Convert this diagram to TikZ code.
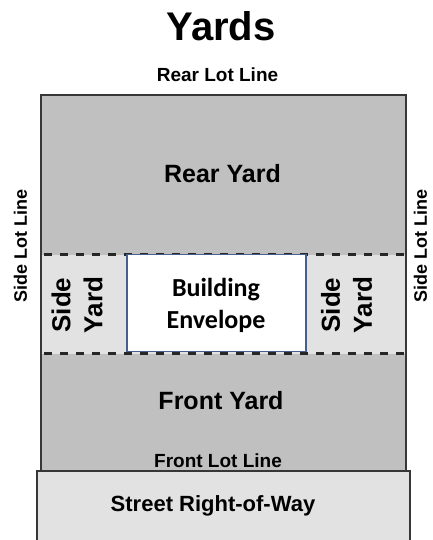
\documentclass[tikz,border=0pt]{standalone}
\usepackage{fontspec}
\setmainfont{Liberation Sans}
\newfontfamily\calibfont{Carlito}
\definecolor{lotgray}{RGB}{192,192,192}
\definecolor{bandgray}{RGB}{226,226,226}
\definecolor{streetgray}{RGB}{226,226,226}
\definecolor{edgegray}{RGB}{55,55,55}
\definecolor{envblue}{RGB}{70,95,140}
\begin{document}
\begin{tikzpicture}[x=1pt,y=-1pt,
  region/.style={inner sep=0pt, outer sep=0pt, anchor=north west},
  titlelbl/.style={font=\bfseries\fontsize{40}{44}\selectfont, inner sep=0pt},
  linelbl/.style={font=\bfseries\fontsize{19}{22}\selectfont, inner sep=0pt},
  sidelbl/.style={font=\bfseries\fontsize{18}{21}\selectfont, inner sep=0pt, rotate=90},
  yardlbl/.style={font=\bfseries\fontsize{25}{31}\selectfont, inner sep=0pt},
  sideyardlbl/.style={font=\bfseries\fontsize{26}{32}\selectfont, inner sep=0pt, align=center, rotate=90},
  envlbl/.style={font=\calibfont\bfseries\fontsize{26}{32}\selectfont, inner sep=0pt, align=center},
  dashline/.style={line width=2.5pt, dash pattern=on 8pt off 8pt, dash phase=-3pt, black!85},
  border/.style={draw=edgegray, line width=1.5pt}]
\useasboundingbox (0,0) rectangle (433,540);
\fill[white] (0,0) rectangle (433,540);
% street right-of-way
\node[region, fill=streetgray, minimum width=373pt, minimum height=69pt] (street) at (37,471) {};
\draw[border] (street.south west) -- (street.north west) -- (street.north east) -- (street.south east);
% lot
\node[region, fill=lotgray, minimum width=365pt, minimum height=376pt] (lot) at (41,95) {};
% side yard band
\node[region, fill=bandgray, minimum width=365pt, minimum height=99pt] (band) at (41,254.5) {};
% top dashed line
\draw[dashline] (band.north west) -- (band.north east);
% building envelope
\node[region, fill=white, draw=envblue, line width=1.2pt, minimum width=179pt, minimum height=97pt] (env) at (127,254.5) {};
% bottom dashed line
\draw[dashline] (band.south west) -- (band.south east);
% lot border
\draw[border] (lot.south west) rectangle (lot.north east);
% labels
\node[titlelbl] (title) at (221,26) {Yards};
\node[linelbl] (rearlot) at (217.5,74.5) {Rear Lot Line};
\node[yardlbl] (rearyard) at (222.5,173.5) {Rear Yard};
\node[yardlbl] (frontyard) at (221,400.5) {Front Yard};
\node[linelbl] (frontlot) at (218,460.5) {Front Lot Line};
\node[font=\bfseries\fontsize{22}{26}\selectfont, inner sep=0pt] (streetlbl) at (213,505.5) {Street Right-of-Way};
\node[sidelbl] (sideL) at (20.5,246) {Side Lot Line};
\node[sidelbl] (sideR) at (420.5,246) {Side Lot Line};
\node[sideyardlbl] (syL) at (77,305) {Side\\Yard};
\node[sideyardlbl] (syR) at (346.5,305) {Side\\Yard};
\node[envlbl] (envlbl) at (216,305) {Building\\Envelope};
\end{tikzpicture}
\end{document}
